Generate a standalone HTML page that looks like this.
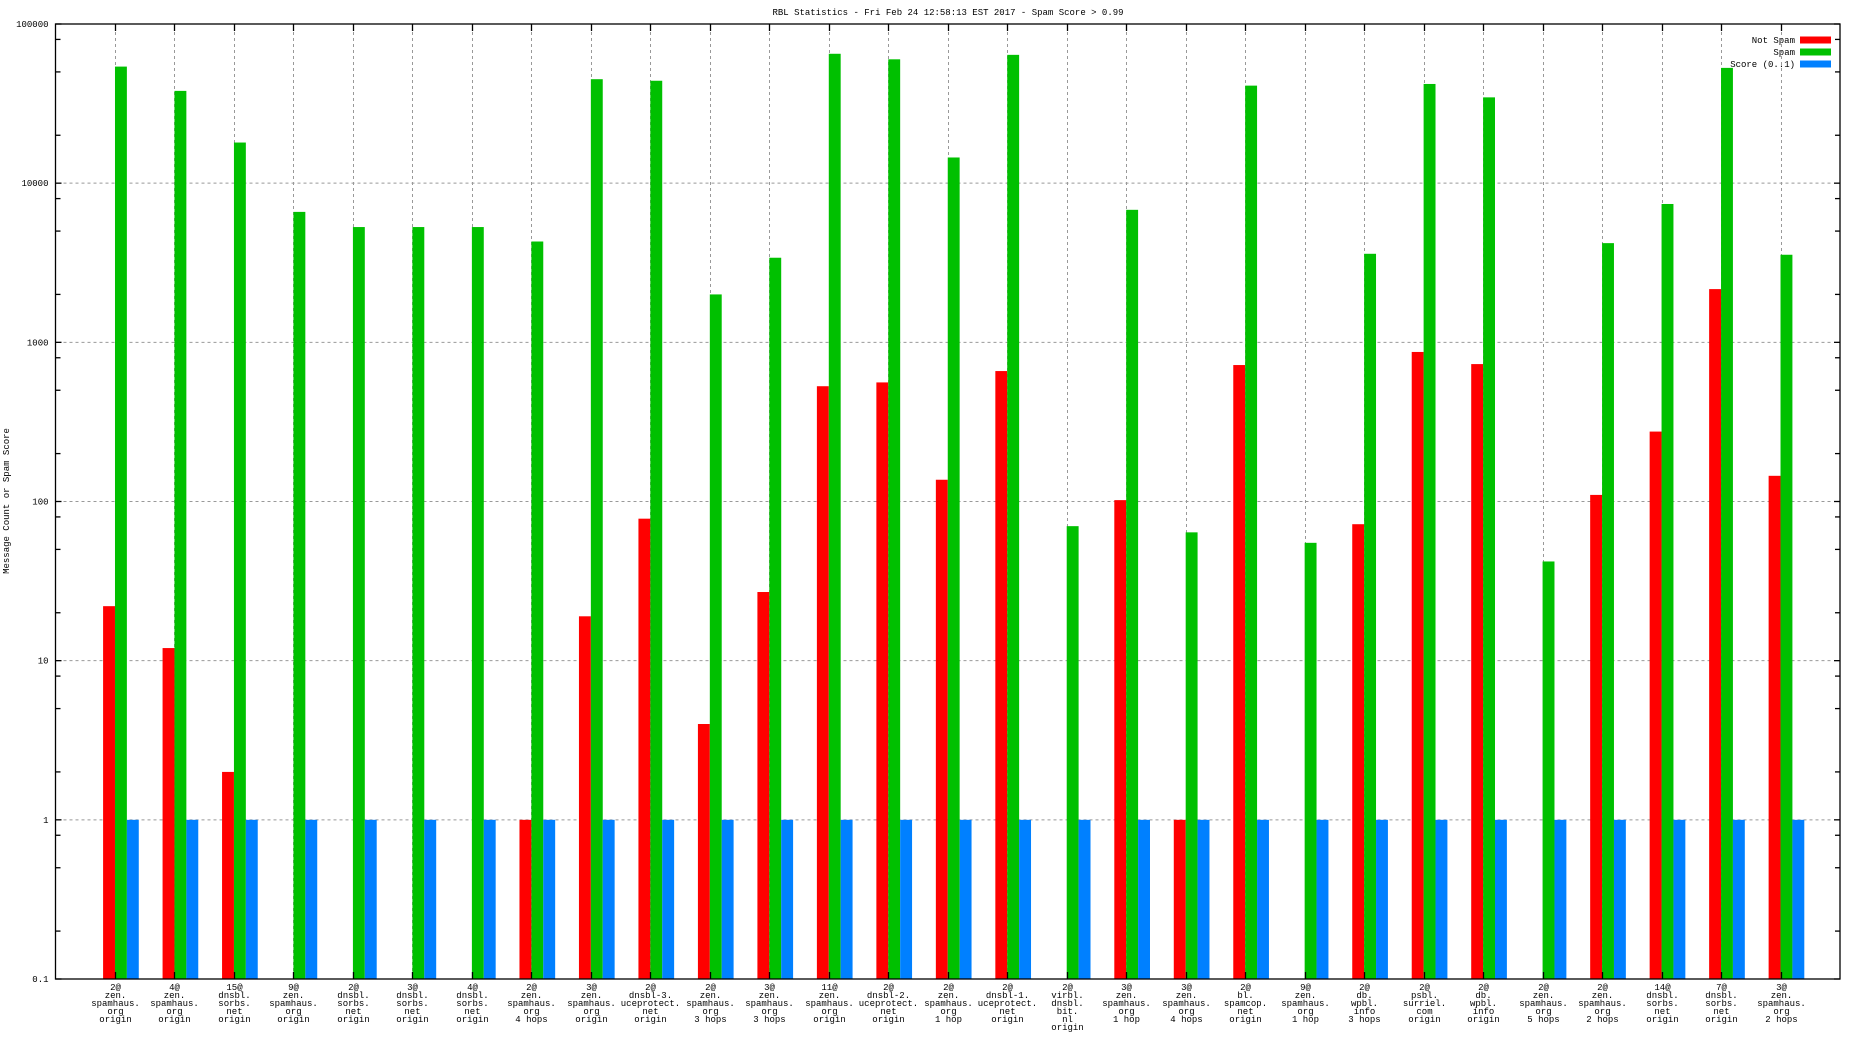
<!DOCTYPE html>
<html><head><meta charset="utf-8"><style>
body{margin:0;background:#fff}
svg text{font-family:"Liberation Mono","DejaVu Sans Mono",monospace;font-size:9px;fill:#000}
</style></head><body>
<svg id="chart" width="1856" height="1044" xmlns="http://www.w3.org/2000/svg">
<text x="948" y="15" text-anchor="middle">RBL Statistics - Fri Feb 24 12:58:13 EST 2017 - Spam Score &gt; 0.99</text>
<text transform="translate(9,501) rotate(-90)" text-anchor="middle">Message Count or Spam Score</text>
<g id="grid"></g>
<g id="bars"></g>
<g id="axes"></g>
<g id="legend"></g>
</svg>
<script>
const categories = [
"2@|zen.|spamhaus.|org|origin","4@|zen.|spamhaus.|org|origin","15@|dnsbl.|sorbs.|net|origin","9@|zen.|spamhaus.|org|origin",
"2@|dnsbl.|sorbs.|net|origin","3@|dnsbl.|sorbs.|net|origin","4@|dnsbl.|sorbs.|net|origin","2@|zen.|spamhaus.|org|4 hops",
"3@|zen.|spamhaus.|org|origin","2@|dnsbl-3.|uceprotect.|net|origin","2@|zen.|spamhaus.|org|3 hops","3@|zen.|spamhaus.|org|3 hops",
"11@|zen.|spamhaus.|org|origin","2@|dnsbl-2.|uceprotect.|net|origin","2@|zen.|spamhaus.|org|1 hop","2@|dnsbl-1.|uceprotect.|net|origin",
"2@|virbl.|dnsbl.|bit.|nl|origin","3@|zen.|spamhaus.|org|1 hop","3@|zen.|spamhaus.|org|4 hops","2@|bl.|spamcop.|net|origin",
"9@|zen.|spamhaus.|org|1 hop","2@|db.|wpbl.|info|3 hops","2@|psbl.|surriel.|com|origin","2@|db.|wpbl.|info|origin",
"2@|zen.|spamhaus.|org|5 hops","2@|zen.|spamhaus.|org|2 hops","14@|dnsbl.|sorbs.|net|origin","7@|dnsbl.|sorbs.|net|origin",
"3@|zen.|spamhaus.|org|2 hops"];
const notSpam = [22,12,2,0,0,0,0,1,19,78,4,27,530,560,137,660,0,102,1,720,0,72,870,730,0,110,275,2160,145];
const spam = [54000,38000,18000,6600,5300,5300,5300,4300,45000,44000,2000,3400,65000,60000,14500,64000,70,6800,64,41000,55,3600,42000,34600,42,4200,7400,53000,3550];
const score = [1,1,1,1,1,1,1,1,1,1,1,1,1,1,1,1,1,1,1,1,1,1,1,1,1,1,1,1,1];
const yTicks = ["0.1","1","10","100","1000","10000","100000"];

const L=55.5,R=1840,T=24,B=979,NS="http://www.w3.org/2000/svg";
const xs=i=>L+(i+1)*(R-L)/30;
const unit=(R-L)/30;
const ys=v=>B-(Math.log10(v)+1)*(B-T)/6;
function mk(t,a,p){const e=document.createElementNS(NS,t);for(const k in a)e.setAttribute(k,a[k]);document.getElementById(p).appendChild(e);return e;}
// grid
for(let d=1;d<6;d++){const y=ys(Math.pow(10,d-1));
 const g=mk('line',{x1:L+8,x2:R-8,y1:y,y2:y,stroke:'#999','stroke-dasharray':'3,3','stroke-width':1},'grid');
 
 }
categories.forEach((c,i)=>{const x=Math.round(xs(i))+0.5;
 const g=mk('line',{x1:x,x2:x,y1:T+8,y2:B-8,stroke:'#999','stroke-dasharray':'3,3','stroke-width':1},'grid');
 
 });
// bars
const series=[[notSpam,'#ff0000',-0.2,'not-spam-bar'],[spam,'#00c000',0,'spam-bar'],[score,'#0080ff',0.2,'score-bar']];
series.forEach(([arr,col,off,nm])=>{arr.forEach((v,i)=>{if(!(v>0.1))return;
 const x0=xs(i)+off*unit,y=ys(v);
 const r=mk('rect',{x:x0,y:y,width:0.2*unit,height:B-y,fill:col},'bars');
 
 });});
// axes
const f=mk('rect',{x:L,y:T,width:R-L,height:B-T,fill:'none',stroke:'#000','stroke-width':1.3},'axes');


yTicks.forEach((t,d)=>{const y=ys(parseFloat(t));
 mk('line',{x1:L,x2:L+6,y1:y,y2:y,stroke:'#000','stroke-width':1.3},'axes');
 mk('line',{x1:R,x2:R-6,y1:y,y2:y,stroke:'#000','stroke-width':1.3},'axes');
 const tx=mk('text',{x:L-7,y:y+3,'text-anchor':'end'},'axes');tx.textContent=t;
 
 
 if(d<6)[2,5,8].forEach(m=>{const yy=ys(parseFloat(t)*m);
  mk('line',{x1:L,x2:L+5,y1:yy,y2:yy,stroke:'#000','stroke-width':1.3},'axes');
  mk('line',{x1:R,x2:R-5,y1:yy,y2:yy,stroke:'#000','stroke-width':1.3},'axes');});});
categories.forEach((c,i)=>{const x=Math.round(xs(i))+0.5;
 mk('line',{x1:x,x2:x,y1:T,y2:T+7,stroke:'#000','stroke-width':1.3},'axes');
 mk('line',{x1:x,x2:x,y1:B,y2:B-7,stroke:'#000','stroke-width':1.3},'axes');
 const tx=mk('text',{x:x,y:990,'text-anchor':'middle'},'axes');
 
 
 c.split('|').forEach((s,k)=>{const ts=document.createElementNS(NS,'tspan');ts.setAttribute('x',x);ts.setAttribute('dy',k?8:0);ts.textContent=s;tx.appendChild(ts);});});
// legend
[['Not Spam','#ff0000'],['Spam','#00c000'],['Score (0..1)','#0080ff']].forEach(([t,c],k)=>{const y=40+k*12;
 const tx=mk('text',{x:1795,y:y+3,'text-anchor':'end'},'legend');tx.textContent=t;
 
 
 const r=mk('rect',{x:1800,y:y-3.5,width:31,height:7,fill:c},'legend');
 
 });
</script>
</body></html>
